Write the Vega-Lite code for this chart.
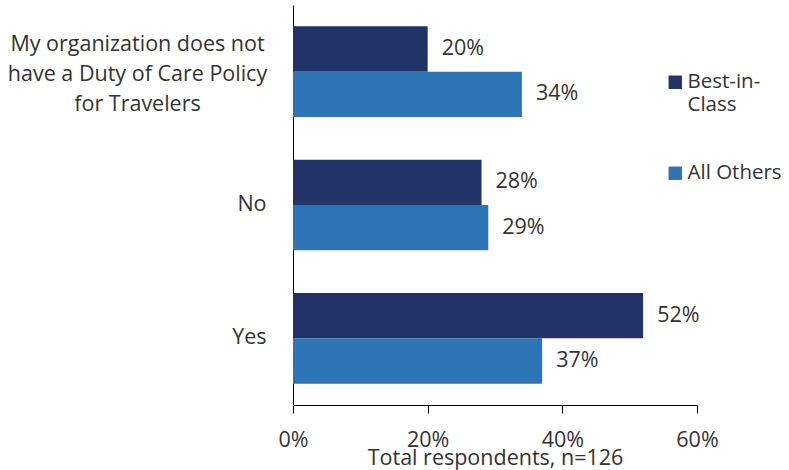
{
  "$schema": "https://vega.github.io/schema/vega-lite/v6.json",
  "width": 404,
  "height": 400,
  "autosize": "none",
  "padding": {"left": 293, "top": 5, "right": 92, "bottom": 65},
  "background": "white",
  "config": {
    "font": "Open Sans",
    "view": {"stroke": null},
    "axis": {"labelFont": "Open Sans", "titleFont": "Open Sans", "labelColor": "#333333", "titleColor": "#333333", "domainColor": "#000000", "tickColor": "#000000"},
    "legend": {"labelFont": "Open Sans"}
  },
  "data": {
    "values": [
      {"answer": "My organization does not have a Duty of Care Policy for Travelers", "group": "Best-in-Class", "value": 0.20},
      {"answer": "My organization does not have a Duty of Care Policy for Travelers", "group": "All Others", "value": 0.34},
      {"answer": "No", "group": "Best-in-Class", "value": 0.28},
      {"answer": "No", "group": "All Others", "value": 0.29},
      {"answer": "Yes", "group": "Best-in-Class", "value": 0.52},
      {"answer": "Yes", "group": "All Others", "value": 0.37}
    ]
  },
  "encoding": {
    "y": {
      "field": "answer",
      "type": "nominal",
      "sort": null,
      "scale": {"paddingInner": 0.32, "paddingOuter": 0.16},
      "axis": {
        "title": null,
        "ticks": false,
        "domain": true,
        "labelFontSize": 21.5,
        "labelLineHeight": 30,
        "labelLimit": 400,
        "labelExpr": "datum.label == 'No' || datum.label == 'Yes' ? datum.label : ['My organization does not', 'have a Duty of Care Policy', 'for Travelers']",
        "labelAlign": {"condition": {"test": "datum.label == 'No' || datum.label == 'Yes'", "value": "right"}, "value": "center"},
        "labelPadding": {"condition": {"test": "datum.label == 'No' || datum.label == 'Yes'", "value": 27}, "value": 156},
        "labelOffset": {"condition": {"test": "datum.label == 'No' || datum.label == 'Yes'", "value": 0}, "value": -27}
      }
    },
    "yOffset": {"field": "group", "type": "nominal", "sort": ["Best-in-Class", "All Others"], "scale": {"paddingInner": 0, "paddingOuter": 0}},
    "x": {
      "field": "value",
      "type": "quantitative",
      "scale": {"domain": [0, 0.6]},
      "axis": {
        "values": [0, 0.2, 0.4, 0.6],
        "format": ".0%",
        "grid": false,
        "tickSize": 8,
        "labelFlush": false,
        "labelFontSize": 21.5,
        "labelPadding": 16,
        "title": "Total respondents, n=126",
        "titleFontSize": 21.5,
        "titleFontWeight": "normal",
        "titlePadding": -3
      }
    }
  },
  "layer": [
    {
      "mark": {"type": "bar"},
      "encoding": {
        "color": {
          "field": "group",
          "type": "nominal",
          "sort": ["Best-in-Class", "All Others"],
          "scale": {"domain": ["Best-in-Class", "All Others"], "range": ["#223368", "#2e75b6"]},
          "legend": {
            "title": null,
            "orient": "none",
            "legendX": 372,
            "legendY": 67,
            "symbolType": "square",
            "symbolSize": 180,
            "labelFontSize": 20.5,
            "labelColor": "#333333",
            "labelLineHeight": 29,
            "labelBaseline": "middle",
            "labelOffset": 2,
            "rowPadding": 47,
            "labelExpr": "datum.label == 'Best-in-Class' ? ['Best-in-', 'Class'] : datum.label"
          }
        }
      }
    },
    {
      "mark": {"type": "text", "align": "left", "dx": 14, "fontSize": 21.5, "color": "#333333"},
      "encoding": {
        "text": {"field": "value", "type": "quantitative", "format": ".0%"},
        "detail": {"field": "group"}
      }
    }
  ]
}
